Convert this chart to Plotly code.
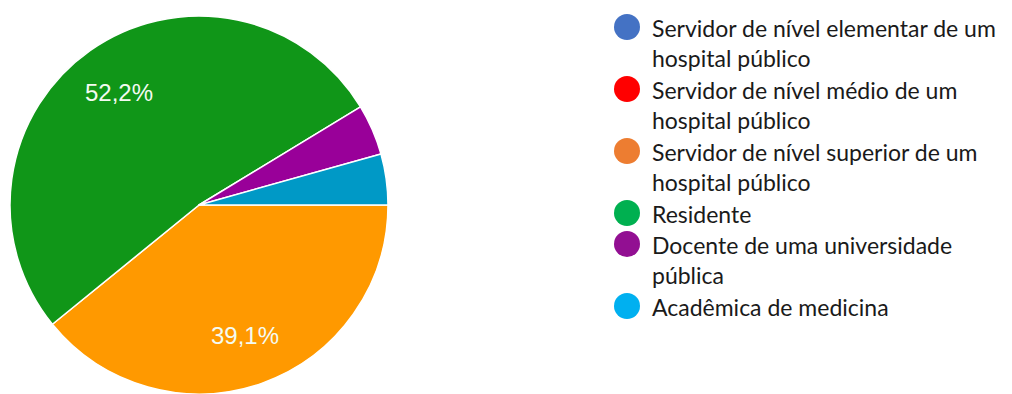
import math
import plotly.graph_objects as go

categories = [
    "Servidor de nível elementar de um<br>hospital público",
    "Servidor de nível médio de um<br>hospital público",
    "Servidor de nível superior de um<br>hospital público",
    "Residente",
    "Docente de uma universidade<br>pública",
    "Acadêmica de medicina",
]
counts = [0, 0, 9, 12, 1, 1]
pie_colors = ["#3366cc", "#dc3912", "#ff9900", "#109618", "#990099", "#0099c6"]
legend_colors = ["#4472c4", "#ff0000", "#ed7d31", "#00b050", "#920f92", "#00b0f0"]

total = sum(counts)

# pie geometry (pixels)
W, H = 1012, 394
pie_left, pie_right, pie_top = 10, 388, 16
cx = (pie_left + pie_right) / 2
R = (pie_right - pie_left) / 2
cy = pie_top + R

fig = go.Figure()
fig.add_trace(go.Pie(
    labels=categories,
    values=counts,
    sort=False,
    direction="clockwise",
    rotation=90,
    marker=dict(colors=pie_colors, line=dict(color="white", width=1.5)),
    textinfo="none",
    showlegend=False,
    hoverinfo="label+percent",
    domain=dict(x=[pie_left / W, pie_right / W], y=[0, 1 - pie_top / H]),
))

# percentage labels for large slices, placed at the slice mid-angle
cum = 0
for c in counts:
    if c / total >= 0.1:
        mid = (cum + c / 2) / total * 2 * math.pi
        rr = 0.73 * R
        pct = f"{c / total * 100:.1f}%".replace(".", ",")
        fig.add_annotation(
            x=cx + rr * math.cos(mid), y=cy + rr * math.sin(mid),
            xref="x", yref="y", text=pct, showarrow=False,
            xanchor="center", yanchor="middle",
            font=dict(family="Liberation Sans, Arial", size=24, color="#f4fbf2"),
        )
    cum += c

# custom legend
line_h = 31
top = 27
ys = []
line_idx = 0
for cat in categories:
    ys.append(top + line_idx * line_h)
    line_idx += cat.count("<br>") + 1

fig.add_trace(go.Scatter(
    x=[627] * len(categories), y=ys, mode="markers",
    marker=dict(size=26, color=legend_colors, line=dict(width=0)),
    showlegend=False, hoverinfo="skip", xaxis="x", yaxis="y",
))

for cat, y in zip(categories, ys):
    fig.add_annotation(
        x=650, y=y - 15, xref="x", yref="y", text=cat, showarrow=False,
        xanchor="left", yanchor="top", align="left",
        font=dict(family="Lato", size=23, color="#1a1a1a"),
    )

fig.update_layout(
    width=W, height=H,
    margin=dict(l=0, r=0, t=0, b=0),
    paper_bgcolor="white", plot_bgcolor="rgba(0,0,0,0)",
    separators=",.",
    xaxis=dict(range=[0, W], visible=False, fixedrange=True, domain=[0, 1]),
    yaxis=dict(range=[H, 0], visible=False, fixedrange=True, domain=[0, 1]),
)

fig.write_html("out.html")
